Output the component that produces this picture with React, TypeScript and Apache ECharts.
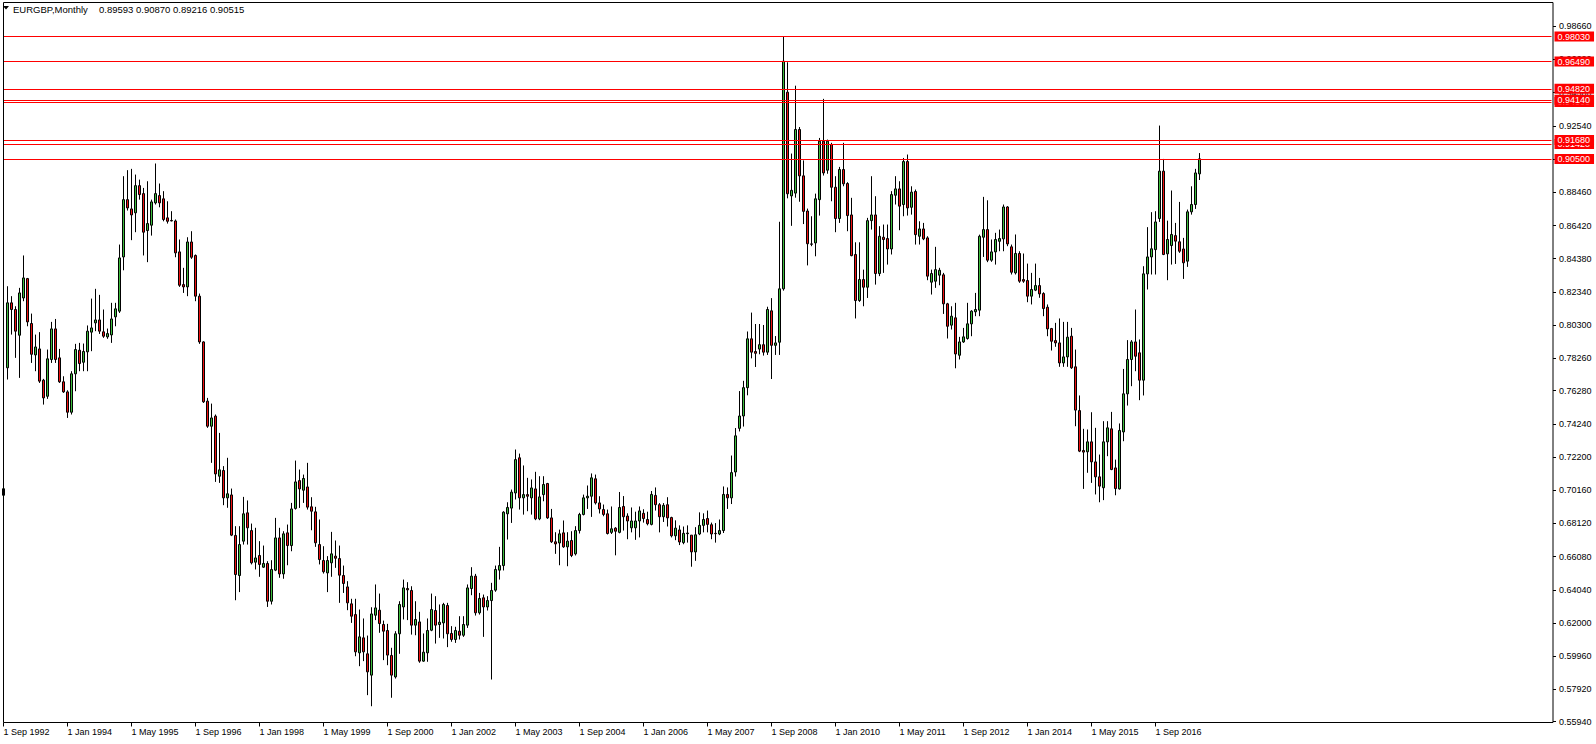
import React, { useEffect, useRef } from "react";
import * as echarts from "echarts";

// Monthly EURGBP bars, first bar = Sep 1992
const START_YEAR = 1992;
const START_MONTH = 8; // 0-based, Sep
const TOTAL_SLOTS = 388;
const LABEL_EVERY = 16;
const MONTHS = ["Jan", "Feb", "Mar", "Apr", "May", "Jun", "Jul", "Aug", "Sep", "Oct", "Nov", "Dec"];

const OPEN = [
  0.6985,0.7768,0.8167,0.8126,0.7968,0.8197,0.8316,0.8040,0.7847,0.7884,
  0.7692,0.7593,0.7819,0.8007,0.7829,0.7682,0.7620,0.7495,0.7731,0.7876,
  0.7802,0.7866,0.7987,0.8044,0.8062,0.7989,0.7958,0.7970,0.8081,0.8116,
  0.8449,0.8801,0.8744,0.8720,0.8887,0.8838,0.8611,0.8644,0.8781,0.8826,
  0.8806,0.8689,0.8673,0.8670,0.8480,0.8279,0.8265,0.8541,0.8458,0.8208,
  0.7927,0.7563,0.7409,0.7471,0.7102,0.7137,0.6969,0.6987,0.6738,0.6492,
  0.6703,0.6877,0.6768,0.6574,0.6615,0.6543,0.6566,0.6334,0.6525,0.6723,
  0.6502,0.6754,0.6676,0.6904,0.7075,0.7016,0.7036,0.6914,0.6883,0.6682,
  0.6584,0.6508,0.6570,0.6611,0.6596,0.6492,0.6422,0.6318,0.6252,0.6017,
  0.6109,0.6011,0.5880,0.6248,0.6279,0.6191,0.6154,0.6001,0.5869,0.6134,
  0.6299,0.6412,0.6400,0.6187,0.6207,0.5966,0.6017,0.6156,0.6277,0.6191,
  0.6201,0.6308,0.6136,0.6099,0.6150,0.6125,0.6187,0.6412,0.6488,0.6263,
  0.6355,0.6299,0.6338,0.6402,0.6525,0.6553,0.6871,0.6906,0.6999,0.7215,
  0.6969,0.6989,0.6969,0.7024,0.6840,0.6989,0.7057,0.6846,0.6699,0.6692,
  0.6754,0.6668,0.6707,0.6625,0.6768,0.6867,0.6969,0.6979,0.7086,0.6938,
  0.6897,0.6871,0.6757,0.6783,0.6757,0.6916,0.6857,0.6785,0.6785,0.6827,
  0.6874,0.6836,0.6806,0.6984,0.6927,0.6853,0.6927,0.6848,0.6736,0.6772,
  0.6694,0.6749,0.6740,0.6637,0.6747,0.6800,0.6842,0.6804,0.6751,0.6747,
  0.6768,0.6990,0.6969,0.7128,0.7396,0.7472,0.7646,0.7946,0.7868,0.7883,
  0.7910,0.7864,0.8118,0.7906,0.7925,0.8253,0.9461,0.8824,0.8841,0.9232,
  0.8947,0.8731,0.8529,0.8535,0.8801,0.9160,0.8982,0.9139,0.8877,0.8685,
  0.8986,0.8900,0.8707,0.8464,0.8181,0.8310,0.8263,0.8672,0.8707,0.8347,
  0.8570,0.8562,0.8498,0.8828,0.8867,0.8771,0.9035,0.8754,0.8851,0.8576,
  0.8621,0.8566,0.8294,0.8300,0.8337,0.8339,0.8161,0.8030,0.8075,0.7845,
  0.7927,0.7948,0.8038,0.8112,0.8122,0.8570,0.8617,0.8429,0.8480,0.8545,
  0.8560,0.8756,0.8511,0.8351,0.8470,0.8310,0.8304,0.8208,0.8245,0.8273,
  0.8224,0.8140,0.8009,0.7935,0.7921,0.7798,0.7835,0.7962,0.7774,0.7505,
  0.7260,0.7252,0.7313,0.7190,0.7098,0.7031,0.7313,0.7393,0.7153,0.7024,
  0.7374,0.7608,0.7819,0.7927,0.7860,0.7692,0.8345,0.8449,0.8494,0.8685,
  0.8976,0.8468,0.8519,0.8580,0.8542,0.8498,0.8423,0.8726,0.8771,0.89593,
];

const HIGH = [
  0.7055,0.8269,0.8208,0.8146,0.8259,0.8458,0.8320,0.8101,0.7972,0.7987,
  0.7700,0.7880,0.8050,0.8068,0.7884,0.7716,0.7630,0.7747,0.7915,0.7921,
  0.7917,0.8028,0.8193,0.8253,0.8216,0.8126,0.8009,0.8167,0.8167,0.8525,
  0.8945,0.8982,0.8990,0.8955,0.8924,0.8873,0.8914,0.8801,0.9023,0.8900,
  0.8853,0.8791,0.8730,0.8679,0.8556,0.8382,0.8570,0.8607,0.8464,0.8224,
  0.7931,0.7583,0.7548,0.7481,0.7368,0.7164,0.7215,0.7026,0.6795,0.6795,
  0.6975,0.6953,0.6811,0.6785,0.6703,0.6676,0.6580,0.6586,0.6846,0.6785,
  0.6764,0.6805,0.6938,0.7198,0.7143,0.7112,0.7184,0.6973,0.6914,0.6836,
  0.6672,0.6611,0.6760,0.6707,0.6676,0.6553,0.6457,0.6349,0.6349,0.6283,
  0.6228,0.6123,0.6297,0.6437,0.6381,0.6215,0.6195,0.6048,0.6150,0.6334,
  0.6467,0.6451,0.6426,0.6334,0.6269,0.6136,0.6228,0.6381,0.6365,0.6314,
  0.6324,0.6324,0.6181,0.6177,0.6242,0.6242,0.6437,0.6543,0.6502,0.6385,
  0.6375,0.6365,0.6447,0.6553,0.6668,0.6887,0.6942,0.7020,0.7266,0.7241,
  0.7168,0.7092,0.7082,0.7129,0.7102,0.7102,0.7061,0.6901,0.6758,0.6774,
  0.6830,0.6758,0.6764,0.6795,0.6877,0.6989,0.7045,0.7119,0.7112,0.6979,
  0.6928,0.6897,0.6916,0.6789,0.7005,0.6980,0.6874,0.6910,0.6884,0.6916,
  0.6899,0.6884,0.7011,0.7033,0.6937,0.6937,0.6973,0.6853,0.6831,0.6800,
  0.6793,0.6800,0.6740,0.6789,0.6880,0.6874,0.6891,0.6817,0.6814,0.6836,
  0.7039,0.7033,0.7229,0.7398,0.7625,0.7688,0.7991,0.8107,0.8037,0.8037,
  0.8031,0.8143,0.8196,0.7963,0.8665,0.9803,0.9645,0.9084,0.9501,0.9247,
  0.9042,0.8746,0.8699,0.8838,0.9180,0.9420,0.9170,0.9150,0.8945,0.9002,
  0.9150,0.8908,0.8812,0.8539,0.8539,0.8371,0.8689,0.8945,0.8822,0.8638,
  0.8648,0.8648,0.8853,0.8945,0.8914,0.9057,0.9078,0.8883,0.8863,0.8668,
  0.8658,0.8576,0.8371,0.8511,0.8382,0.8351,0.8167,0.8146,0.8167,0.7958,
  0.8013,0.8167,0.8122,0.8228,0.8586,0.8818,0.8797,0.8556,0.8597,0.8617,
  0.8771,0.8761,0.8525,0.8587,0.8484,0.8470,0.8408,0.8351,0.8408,0.8320,
  0.8232,0.8157,0.8013,0.8044,0.8071,0.8050,0.8050,0.8013,0.7880,0.7598,
  0.7393,0.7389,0.7495,0.7399,0.7235,0.7440,0.7440,0.7497,0.7204,0.7426,
  0.7761,0.7938,0.7938,0.8126,0.7942,0.8392,0.8632,0.8724,0.8730,0.9256,
  0.9051,0.8672,0.8857,0.8658,0.8787,0.8566,0.8740,0.8883,0.8990,0.90870,
];

const LOW = [
  0.6965,0.7696,0.7972,0.7829,0.7706,0.8177,0.8023,0.7798,0.7747,0.7675,
  0.7542,0.7577,0.7798,0.7798,0.7675,0.7614,0.7460,0.7481,0.7624,0.7747,
  0.7747,0.7747,0.7870,0.7993,0.7976,0.7952,0.7946,0.7921,0.8023,0.8105,
  0.8367,0.8734,0.8552,0.8601,0.8801,0.8458,0.8417,0.8580,0.8771,0.8754,
  0.8668,0.8654,0.8668,0.8447,0.8265,0.8228,0.8208,0.8437,0.8177,0.7915,
  0.7552,0.7399,0.7184,0.7067,0.7061,0.6924,0.6908,0.6734,0.6340,0.6390,
  0.6682,0.6682,0.6560,0.6529,0.6484,0.6539,0.6299,0.6314,0.6519,0.6478,
  0.6472,0.6555,0.6641,0.6897,0.6907,0.6938,0.6897,0.6770,0.6668,0.6560,
  0.6504,0.6390,0.6484,0.6539,0.6324,0.6385,0.6279,0.6201,0.5996,0.5935,
  0.5966,0.5757,0.5689,0.6218,0.6140,0.5972,0.5941,0.5741,0.5859,0.6011,
  0.6222,0.6218,0.6129,0.6125,0.5956,0.5962,0.5962,0.6150,0.6074,0.6109,
  0.6105,0.6052,0.6085,0.6078,0.6099,0.6115,0.6170,0.6371,0.6246,0.6252,
  0.6115,0.6277,0.5853,0.6392,0.6467,0.6523,0.6713,0.6815,0.6959,0.6897,
  0.6866,0.6887,0.6866,0.6832,0.6832,0.6948,0.6840,0.6692,0.6625,0.6555,
  0.6662,0.6549,0.6605,0.6615,0.6750,0.6861,0.6901,0.6852,0.6928,0.6873,
  0.6856,0.6744,0.6747,0.6616,0.6751,0.6768,0.6715,0.6757,0.6711,0.6726,
  0.6817,0.6800,0.6800,0.6891,0.6757,0.6821,0.6793,0.6726,0.6709,0.6679,
  0.6684,0.6694,0.6546,0.6582,0.6740,0.6757,0.6757,0.6715,0.6694,0.6740,
  0.6753,0.6901,0.6931,0.7100,0.7377,0.7407,0.7599,0.7826,0.7773,0.7851,
  0.7843,0.7847,0.7699,0.7847,0.7847,0.8242,0.8809,0.8640,0.8813,0.8788,
  0.8651,0.8397,0.8515,0.8453,0.8703,0.8949,0.8960,0.8791,0.8601,0.8658,
  0.8883,0.8607,0.8453,0.8071,0.8173,0.8146,0.8197,0.8617,0.8279,0.8331,
  0.8351,0.8402,0.8464,0.8771,0.8613,0.8699,0.8703,0.8709,0.8525,0.8525,
  0.8552,0.8306,0.8218,0.8259,0.8275,0.8099,0.7948,0.8003,0.7765,0.7819,
  0.7921,0.7941,0.7962,0.8085,0.8085,0.8449,0.8417,0.8419,0.8402,0.8484,
  0.8484,0.8515,0.8341,0.8341,0.8290,0.8290,0.8171,0.8157,0.8239,0.8198,
  0.8085,0.7962,0.7874,0.7897,0.7774,0.7774,0.7774,0.7761,0.7409,0.7250,
  0.7024,0.7123,0.7061,0.6990,0.6942,0.6955,0.7225,0.7139,0.6985,0.7020,
  0.7317,0.7536,0.7655,0.7747,0.7569,0.7598,0.8249,0.8341,0.8341,0.8664,
  0.8460,0.8306,0.8402,0.8406,0.8474,0.8314,0.8388,0.8709,0.8744,0.89216,
];

const CLOSE = [
  0.7025,0.8167,0.8126,0.7993,0.8228,0.8320,0.8050,0.7851,0.7896,0.7686,
  0.7583,0.7823,0.8007,0.7819,0.7682,0.7620,0.7495,0.7731,0.7880,0.7794,
  0.7868,0.7993,0.8013,0.8062,0.7993,0.7962,0.7978,0.8068,0.8130,0.8443,
  0.8801,0.8750,0.8707,0.8887,0.8832,0.8601,0.8654,0.8787,0.8838,0.8781,
  0.8679,0.8668,0.8670,0.8474,0.8275,0.8265,0.8541,0.8447,0.8208,0.7927,
  0.7559,0.7409,0.7460,0.7116,0.7141,0.6969,0.6994,0.6740,0.6498,0.6682,
  0.6871,0.6785,0.6570,0.6600,0.6560,0.6566,0.6334,0.6529,0.6723,0.6502,
  0.6748,0.6676,0.6901,0.7067,0.7024,0.7088,0.6912,0.6887,0.6693,0.6590,
  0.6515,0.6584,0.6625,0.6598,0.6494,0.6443,0.6324,0.6242,0.6023,0.6115,
  0.6023,0.5900,0.6256,0.6293,0.6197,0.6150,0.6003,0.5880,0.6134,0.6314,
  0.6416,0.6404,0.6187,0.6222,0.5966,0.6021,0.6154,0.6283,0.6187,0.6205,
  0.6314,0.6134,0.6099,0.6154,0.6125,0.6191,0.6416,0.6488,0.6263,0.6351,
  0.6299,0.6338,0.6400,0.6529,0.6553,0.6881,0.6910,0.7004,0.7204,0.6969,
  0.6989,0.6979,0.7030,0.6840,0.6975,0.7051,0.6846,0.6699,0.6686,0.6748,
  0.6668,0.6703,0.6615,0.6768,0.6867,0.6969,0.6979,0.7092,0.6938,0.6901,
  0.6867,0.6750,0.6779,0.6764,0.6910,0.6853,0.6827,0.6827,0.6827,0.6889,
  0.6842,0.6810,0.6990,0.6927,0.6853,0.6923,0.6846,0.6736,0.6783,0.6698,
  0.6751,0.6753,0.6637,0.6742,0.6800,0.6836,0.6806,0.6747,0.6749,0.6768,
  0.6990,0.6969,0.7124,0.7350,0.7472,0.7646,0.7946,0.7864,0.7857,0.7910,
  0.7864,0.8126,0.7906,0.7921,0.8253,0.9651,0.8837,0.8858,0.9232,0.8947,
  0.8729,0.8530,0.8527,0.8806,0.9160,0.8965,0.9160,0.8877,0.8685,0.8986,
  0.8898,0.8703,0.8457,0.8181,0.8310,0.8263,0.8672,0.8707,0.8347,0.8576,
  0.8556,0.8498,0.8832,0.8867,0.8761,0.9035,0.8750,0.8847,0.8586,0.8621,
  0.8560,0.8331,0.8347,0.8371,0.8367,0.8161,0.8023,0.8085,0.7853,0.7927,
  0.7958,0.8038,0.8116,0.8126,0.8576,0.8617,0.8429,0.8480,0.8556,0.8562,
  0.8756,0.8529,0.8355,0.8470,0.8300,0.8300,0.8208,0.8249,0.8273,0.8222,
  0.8132,0.8007,0.7931,0.7921,0.7798,0.7835,0.7956,0.7768,0.7508,0.7256,
  0.7250,0.7313,0.7190,0.7098,0.7041,0.7313,0.7399,0.7143,0.7026,0.7383,
  0.7608,0.7819,0.7927,0.7839,0.7692,0.8345,0.8449,0.8499,0.8664,0.8976,
  0.8464,0.8556,0.8587,0.8546,0.8484,0.8413,0.8726,0.8771,0.8965,0.90515,
];

// Horizontal levels drawn by the user (later ones drawn on top)
const LEVELS = [0.9803, 0.9649, 0.9482, 0.9400, 0.9414, 0.9142, 0.9168, 0.9050];

// Price scale tick labels
const Y_TICKS = [
  0.9866, 0.9662, 0.9458, 0.9254, 0.905, 0.8846, 0.8642, 0.8438, 0.8234, 0.803, 0.7826,
  0.7628, 0.7424, 0.722, 0.7016, 0.6812, 0.6608, 0.6404, 0.62, 0.5996, 0.5792, 0.5594,
];
const Y_MIN = 0.5589;
const Y_MAX = 1.0012;

const TITLE = "EURGBP,Monthly";
const TITLE_VALUES = "0.89593 0.90870 0.89216 0.90515";

const FONT = '"Liberation Sans", Arial, sans-serif';
const UP = "#3cbc3c";
const DOWN = "#ee1111";

function monthLabel(i: number): string {
  const m = START_MONTH + i;
  const y = START_YEAR + Math.floor(m / 12);
  return `1 ${MONTHS[m % 12]} ${y}`;
}

export default function App() {
  const ref = useRef<HTMLDivElement>(null);

  useEffect(() => {
    if (!ref.current) return;
    const chart = echarts.init(ref.current, null, { renderer: "svg" });
    const n = OPEN.length;
    const cats = Array.from({ length: TOTAL_SLOTS }, (_, i) => (i < n ? monthLabel(i) : ""));
    const data = OPEN.map((o, i) => [o, CLOSE[i], LOW[i], HIGH[i]]);
    const showIdx = (idx: number) => idx < n && idx % LABEL_EVERY === 0;

    chart.setOption({
      animation: false,
      backgroundColor: "#ffffff",
      grid: {
        left: 3.5,
        top: 2.5,
        width: 1548,
        height: 720,
        show: false,
        containLabel: false,
      },
      xAxis: {
        type: "category",
        data: cats,
        boundaryGap: false,
        axisLine: { show: false },
        axisTick: {
          show: true,
          interval: (idx: number) => showIdx(idx),
          length: 4,
          lineStyle: { color: "#000" },
        },
        axisLabel: {
          interval: (idx: number) => showIdx(idx),
          align: "left",
          margin: 5,
          fontSize: 9,
          fontFamily: FONT,
          color: "#000",
        },
        splitLine: { show: false },
      },
      yAxis: {
        type: "value",
        position: "right",
        offset: 1.5,
        min: Y_MIN,
        max: Y_MAX,
        axisLine: { show: false },
        axisTick: { show: true, customValues: Y_TICKS, length: 3, lineStyle: { color: "#000" } },
        axisLabel: {
          customValues: Y_TICKS,
          formatter: (v: number) => v.toFixed(5),
          margin: 6,
          fontSize: 9,
          fontFamily: FONT,
          color: "#000",
        },
        splitLine: { show: false },
      },
      series: [
        {
          type: "candlestick",
          data,
          barWidth: 2,
          clip: true,
          itemStyle: {
            color: UP,
            color0: DOWN,
            borderColor: "#000",
            borderColor0: "#000",
            borderWidth: 1,
          },
          markLine: {
            silent: true,
            symbol: ["none", "none"],
            precision: 5,
            lineStyle: { color: "#ff0000", type: "solid", width: 1 },
            label: {
              show: true,
              position: "end",
              distance: 3,
              formatter: (p: any) => Number(p.value).toFixed(5),
              backgroundColor: "#ff0000",
              color: "#ffffff",
              fontSize: 9,
              fontFamily: FONT,
              padding: [1, 4, 0, 3],
            },
            emphasis: { disabled: true },
            data: LEVELS.map((v) => ({ yAxis: v })),
          },
        },
      ],
      graphic: [
        {
          type: "rect",
          shape: { x: 3.5, y: 2.5, width: 1549.5, height: 720 },
          style: { fill: "none", stroke: "#000", lineWidth: 1 },
          silent: true,
          z: 10,
        },
        {
          type: "polygon",
          shape: { points: [[3, 6], [9, 6], [6, 9.5]] },
          style: { fill: "#000" },
        },
        {
          type: "text",
          x: 13,
          y: 9,
          style: { text: TITLE, fontSize: 9.5, fontFamily: FONT, fill: "#000", verticalAlign: "middle" },
        },
        {
          type: "text",
          x: 99,
          y: 9,
          style: { text: TITLE_VALUES, fontSize: 9.5, fontFamily: FONT, fill: "#000", verticalAlign: "middle" },
        },
      ],
    });

    return () => chart.dispose();
  }, []);

  return (
    <div
      ref={ref}
      style={{ position: "fixed", left: 0, top: 0, width: 1596, height: 744, background: "#fff" }}
    />
  );
}
